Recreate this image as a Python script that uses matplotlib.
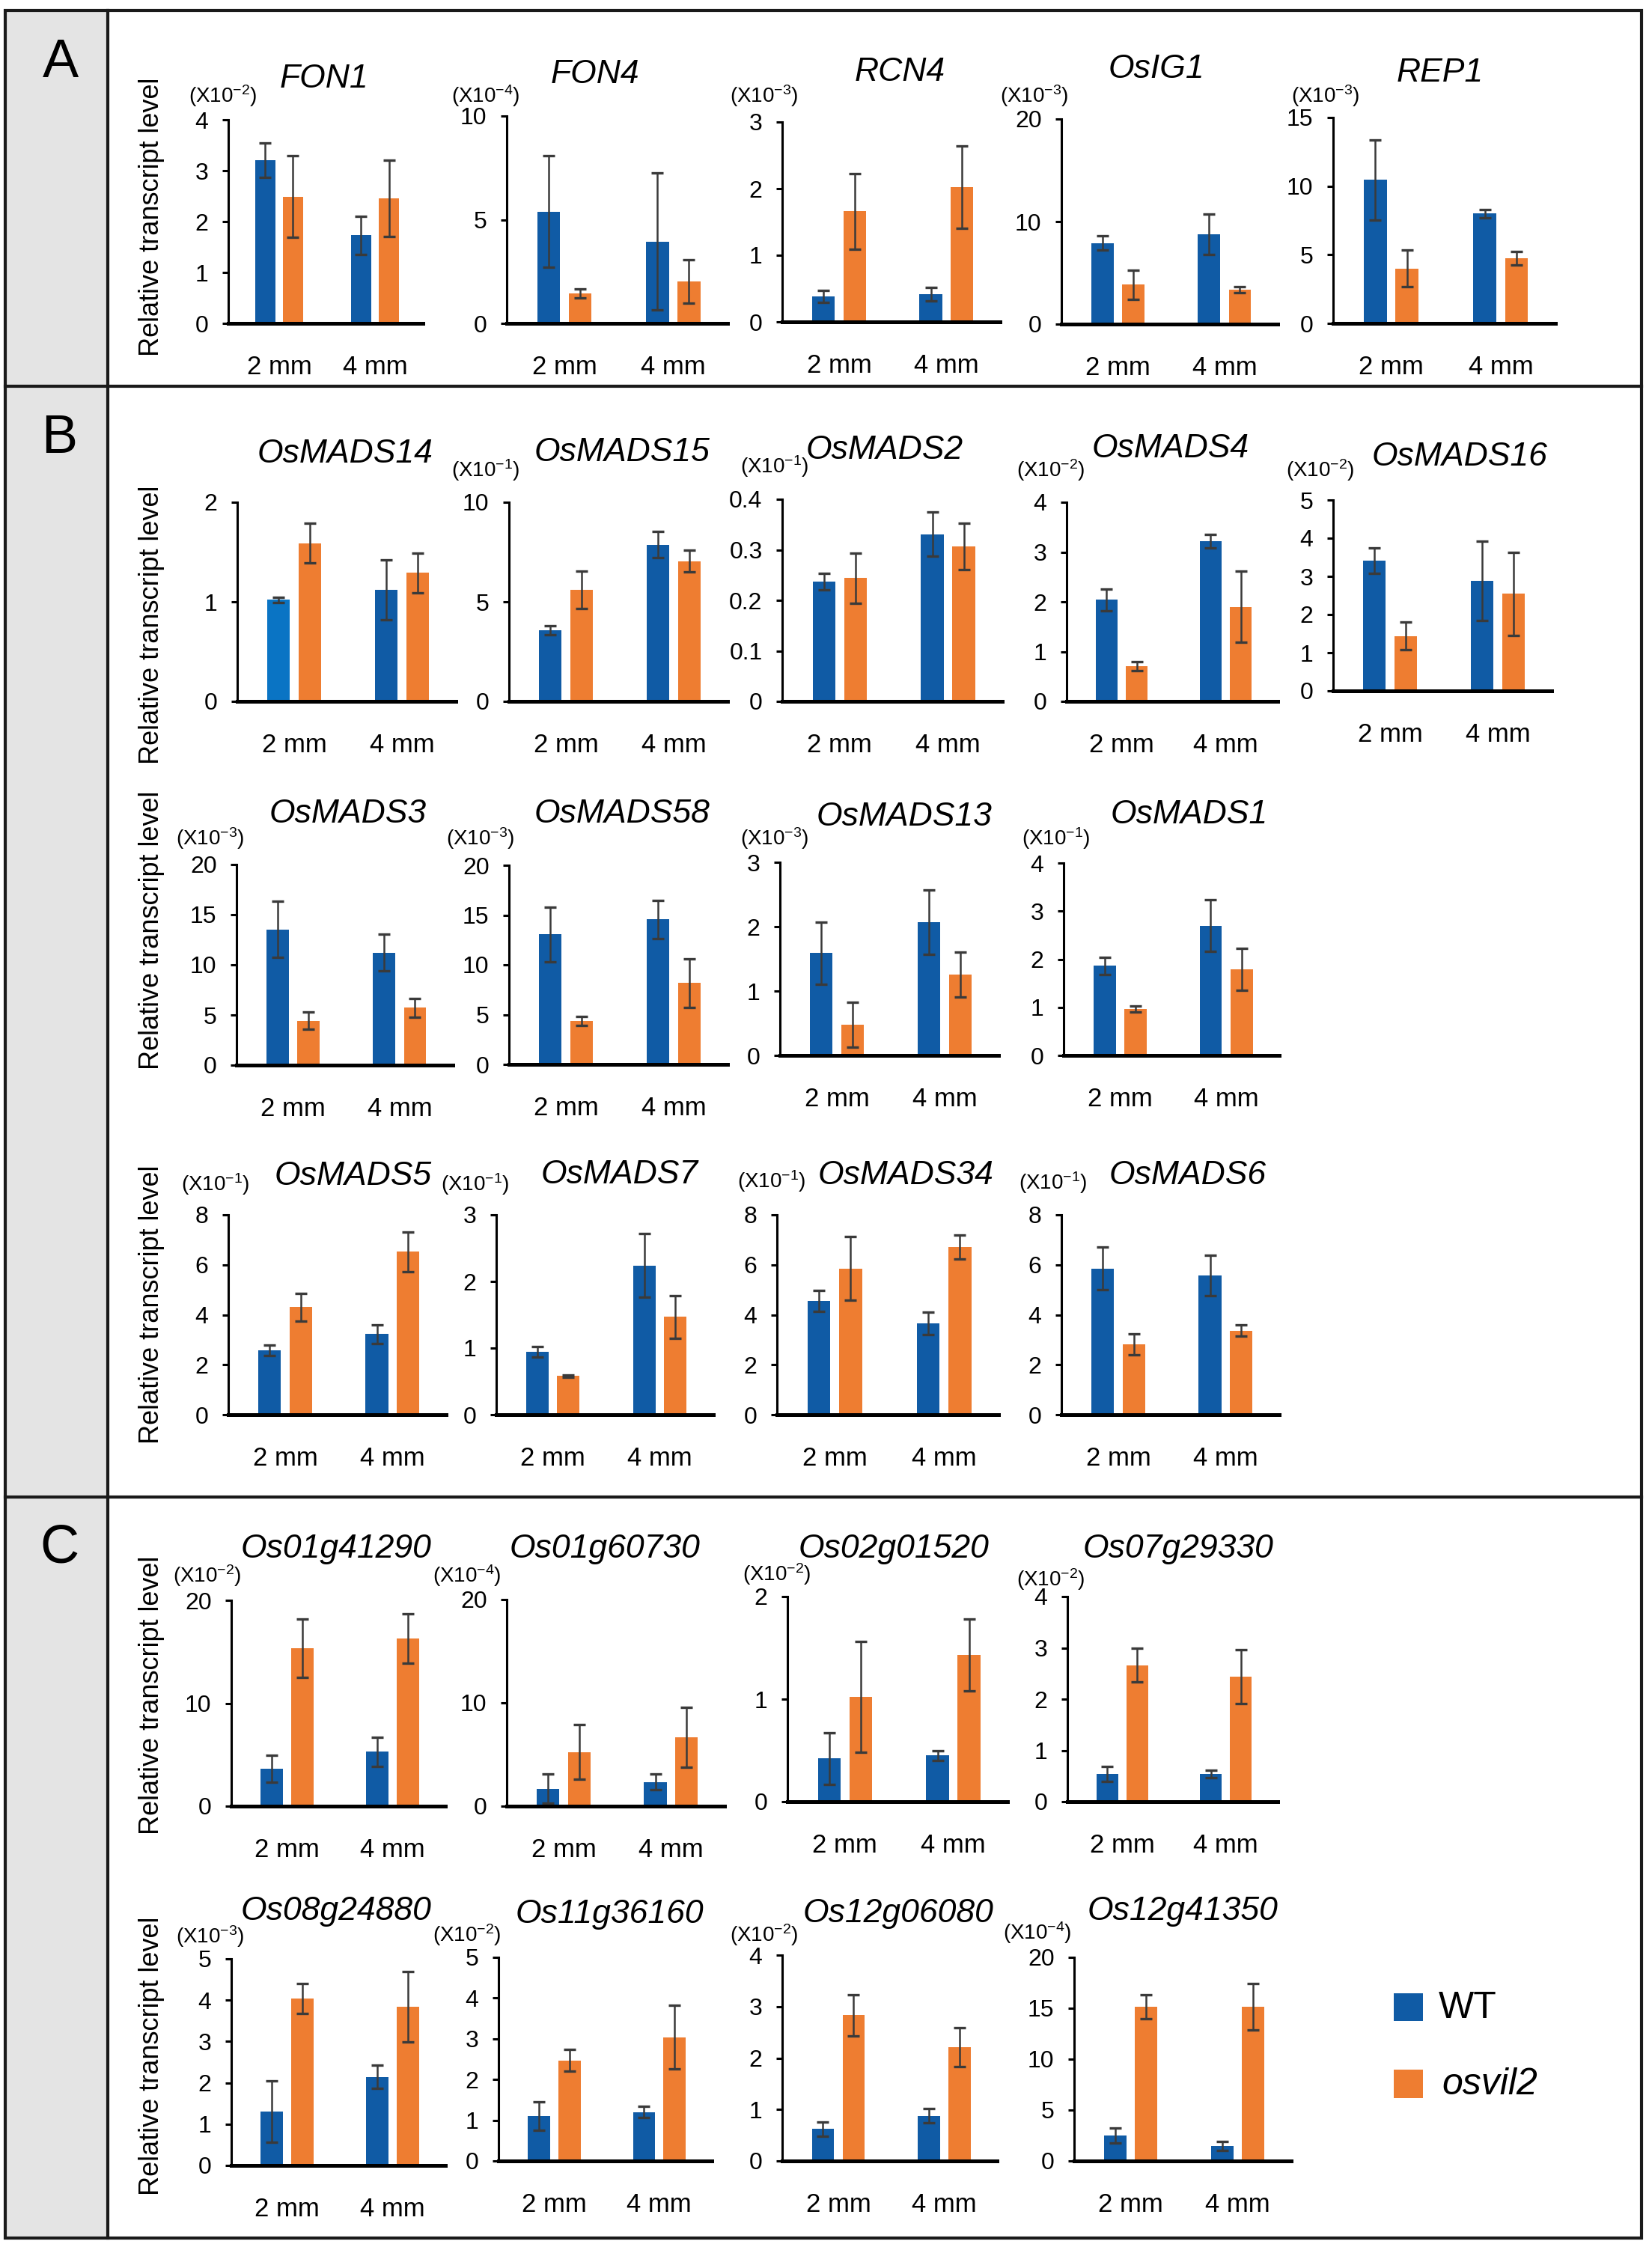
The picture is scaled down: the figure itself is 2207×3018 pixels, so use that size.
import matplotlib
matplotlib.use("Agg")
import matplotlib.pyplot as plt
from matplotlib.patches import Rectangle
from matplotlib.lines import Line2D

plt.rcParams['font.family'] = ['Liberation Sans', 'DejaVu Sans']
plt.rcParams['mathtext.fontset'] = 'custom'
plt.rcParams['mathtext.rm'] = 'Liberation Sans'
plt.rcParams['mathtext.it'] = 'Liberation Sans:italic'
plt.rcParams['mathtext.default'] = 'regular'

# ---------------- data ----------------
stages = ["2 mm", "4 mm"]
series_labels = ["WT", "osvil2"]
ylabel_text = "Relative transcript level"
panel_letters = ["A", "B", "C"]

# Panel A
genes_A = ["FON1", "FON4", "RCN4", "OsIG1", "REP1"]
wt_A = [[3.21, 1.73], [5.39, 3.94], [0.38, 0.42], [7.91, 8.76], [10.45, 8.00]]
wt_err_A = [[0.34, 0.37], [2.68, 3.30], [0.09, 0.10], [0.67, 2.00], [2.90, 0.30]]
mut_A = [[2.49, 2.45], [1.45, 2.01], [1.66, 2.02], [3.84, 3.36], [4.00, 4.73]]
mut_err_A = [[0.80, 0.75], [0.22, 1.05], [0.57, 0.62], [1.45, 0.30], [1.35, 0.50]]
ymax_A = [4, 10, 3, 20, 15]
ystep_A = [1, 5, 1, 10, 5]
exp_A = [-2, -4, -3, -3, -3]

# Panel B, row 1
genes_B1 = ["OsMADS14", "OsMADS15", "OsMADS2", "OsMADS4", "OsMADS16"]
wt_B1 = [[1.02, 1.12], [3.57, 7.87], [0.237, 0.331], [2.04, 3.22], [3.41, 2.88]]
wt_err_B1 = [[0.025, 0.30], [0.22, 0.65], [0.016, 0.044], [0.22, 0.13], [0.33, 1.04]]
mut_B1 = [[1.59, 1.29], [5.61, 7.04], [0.244, 0.307], [0.70, 1.90], [1.44, 2.54]]
mut_err_B1 = [[0.20, 0.20], [0.95, 0.55], [0.050, 0.046], [0.09, 0.71], [0.36, 1.08]]
ymax_B1 = [2, 10, 0.4, 4, 5]
ystep_B1 = [1, 5, 0.1, 1, 1]
exp_B1 = [None, -1, -1, -2, -2]

# Panel B, row 2
genes_B2 = ["OsMADS3", "OsMADS58", "OsMADS13", "OsMADS1"]
wt_B2 = [[13.54, 11.23], [13.05, 14.55], [1.59, 2.07], [1.86, 2.70]]
wt_err_B2 = [[2.80, 1.85], [2.76, 1.93], [0.48, 0.50], [0.18, 0.53]]
mut_B2 = [[4.42, 5.71], [4.34, 8.16], [0.48, 1.26], [0.96, 1.79]]
mut_err_B2 = [[0.85, 0.95], [0.45, 2.45], [0.35, 0.35], [0.065, 0.43]]
ymax_B2 = [20, 20, 3, 4]
ystep_B2 = [5, 5, 1, 1]
exp_B2 = [-3, -3, -3, -1]

# Panel B, row 3
genes_B3 = ["OsMADS5", "OsMADS7", "OsMADS34", "OsMADS6"]
wt_B3 = [[2.58, 3.23], [0.94, 2.24], [4.55, 3.65], [5.85, 5.58]]
wt_err_B3 = [[0.21, 0.37], [0.08, 0.48], [0.43, 0.45], [0.86, 0.81]]
mut_B3 = [[4.30, 6.52], [0.58, 1.47], [5.85, 6.72], [2.82, 3.37]]
mut_err_B3 = [[0.54, 0.79], [0.02, 0.32], [1.28, 0.48], [0.42, 0.22]]
ymax_B3 = [8, 3, 8, 8]
ystep_B3 = [2, 1, 2, 2]
exp_B3 = [-1, -1, -1, -1]

# Panel C, row 1
genes_C1 = ["Os01g41290", "Os01g60730", "Os02g01520", "Os07g29330"]
wt_C1 = [[3.64, 5.28], [1.69, 2.34], [0.42, 0.45], [0.54, 0.54]]
wt_err_C1 = [[1.30, 1.42], [1.40, 0.75], [0.25, 0.05], [0.15, 0.08]]
mut_C1 = [[15.35, 16.30], [5.25, 6.70], [1.02, 1.43], [2.66, 2.44]]
mut_err_C1 = [[2.85, 2.40], [2.65, 2.90], [0.54, 0.35], [0.33, 0.53]]
ymax_C1 = [20, 20, 2, 4]
ystep_C1 = [10, 10, 1, 1]
exp_C1 = [-2, -4, -2, -2]

# Panel C, row 2
genes_C2 = ["Os08g24880", "Os11g36160", "Os12g06080", "Os12g41350"]
wt_C2 = [[1.30, 2.14], [1.10, 1.20], [0.62, 0.88], [2.50, 1.47]]
wt_err_C2 = [[0.74, 0.28], [0.35, 0.14], [0.14, 0.14], [0.70, 0.43]]
mut_C2 = [[4.04, 3.84], [2.47, 3.04], [2.83, 2.21], [15.14, 15.14]]
mut_err_C2 = [[0.37, 0.85], [0.27, 0.78], [0.40, 0.38], [1.15, 2.30]]
ymax_C2 = [5, 5, 4, 20]
ystep_C2 = [1, 1, 1, 5]
exp_C2 = [-3, -2, -2, -4]

# ---------------- style / layout ----------------
W, H, DPI = 2207, 3018, 100
C_WT = "#105BA5"
C_WT_LIGHT = "#0A74C4"
C_MUT = "#EE7D31"
C_ERR = "#3A3A3A"
C_GRAY = "#E4E4E4"

# axis boxes in pixels: (left, right, zero_y, top_y)
boxes_A = [(305, 565, 432, 160), (677, 972, 432, 155), (1045, 1336, 430, 163),
           (1418, 1707, 433, 159), (1781, 2078, 432, 157)]
boxes_B1 = [(317, 609, 937, 671), (680, 972, 937, 671), (1045, 1339, 937, 667),
            (1425, 1707, 937, 671), (1781, 2073, 923, 668)]
boxes_B2 = [(316, 605, 1423, 1155), (680, 972, 1422, 1156), (1042, 1334, 1410, 1152),
            (1421, 1709, 1410, 1153)]
boxes_B3 = [(305, 596, 1890, 1623), (663, 953, 1890, 1623), (1038, 1334, 1890, 1623),
            (1418, 1709, 1890, 1623)]
boxes_C1 = [(309, 595, 2413, 2138), (677, 968, 2413, 2137), (1052, 1346, 2407, 2133),
            (1426, 1707, 2407, 2133)]
boxes_C2 = [(309, 595, 2893, 2617), (666, 951, 2887, 2615), (1045, 1332, 2887, 2612),
            (1435, 1725, 2887, 2615)]

titles_A = [(433, 101), (795, 95), (1202, 92), (1545, 88), (1924, 93)]
titles_B1 = [(461, 602), (831, 600), (1182, 597), (1564, 595), (1950, 606)]
titles_B2 = [(465, 1083), (831, 1083), (1208, 1087), (1589, 1084)]
titles_B3 = [(472, 1567), (828, 1565), (1210, 1566), (1587, 1566)]
titles_C1 = [(449, 2065), (808, 2065), (1194, 2065), (1574, 2065)]
titles_C2 = [(449, 2549), (814, 2553), (1200, 2552), (1580, 2549)]

mult_A = [(298, 128), (649, 128), (1021, 128), (1382, 128), (1771, 128)]
mult_B1 = [None, (649, 628), (1035, 623), (1404, 628), (1764, 628)]
mult_B2 = [(281, 1120), (642, 1120), (1035, 1120), (1411, 1120)]
mult_B3 = [(288, 1582), (635, 1582), (1031, 1578), (1407, 1580)]
mult_C1 = [(277, 2105), (624, 2105), (1038, 2103), (1404, 2110)]
mult_C2 = [(281, 2587), (624, 2585), (1021, 2585), (1386, 2582)]

ylabel_y = [290, 835, 1243, 1743, 2265, 2747]

rows = [
    (genes_A, wt_A, wt_err_A, mut_A, mut_err_A, ymax_A, ystep_A, exp_A, boxes_A, titles_A, mult_A),
    (genes_B1, wt_B1, wt_err_B1, mut_B1, mut_err_B1, ymax_B1, ystep_B1, exp_B1, boxes_B1, titles_B1, mult_B1),
    (genes_B2, wt_B2, wt_err_B2, mut_B2, mut_err_B2, ymax_B2, ystep_B2, exp_B2, boxes_B2, titles_B2, mult_B2),
    (genes_B3, wt_B3, wt_err_B3, mut_B3, mut_err_B3, ymax_B3, ystep_B3, exp_B3, boxes_B3, titles_B3, mult_B3),
    (genes_C1, wt_C1, wt_err_C1, mut_C1, mut_err_C1, ymax_C1, ystep_C1, exp_C1, boxes_C1, titles_C1, mult_C1),
    (genes_C2, wt_C2, wt_err_C2, mut_C2, mut_err_C2, ymax_C2, ystep_C2, exp_C2, boxes_C2, titles_C2, mult_C2),
]

fig = plt.figure(figsize=(W / DPI, H / DPI), dpi=DPI)
fig.patch.set_facecolor("white")


def fx(x):
    return x / W


def fy(y):
    return 1 - y / H


PT = DPI / 72.0  # pixels per point

# ---------------- frame ----------------
fig.add_artist(Rectangle((fx(7), fy(2990)), (144 - 7) / W, (2990 - 14) / H,
                         transform=fig.transFigure, facecolor=C_GRAY, edgecolor="none", zorder=0))
fig.add_artist(Rectangle((fx(7), fy(2990)), (2193 - 7) / W, (2990 - 14) / H,
                         transform=fig.transFigure, facecolor="none", edgecolor="#1a1a1a",
                         linewidth=3, zorder=5))
for yy in (516, 2000):
    fig.add_artist(Line2D([fx(7), fx(2193)], [fy(yy), fy(yy)], transform=fig.transFigure,
                          color="#1a1a1a", linewidth=3, zorder=5))
fig.add_artist(Line2D([fx(144), fx(144)], [fy(14), fy(2990)], transform=fig.transFigure,
                      color="#1a1a1a", linewidth=3, zorder=5))

letter_pos = [(81, 103), (79, 605), (79, 2087)]
for letter, (lx, ly) in zip(panel_letters, letter_pos):
    fig.text(fx(lx), fy(ly), letter, fontsize=52, ha="center", va="baseline")

for yl in ylabel_y:
    fig.text(fx(203), fy(yl), ylabel_text, fontsize=26, rotation=90, ha="center", va="center")

# ---------------- subplots ----------------
BW = 0.21
OFF = 0.145
for (genes, wt, wt_err, mut, mut_err, ymaxs, ysteps, exps, boxes, titles, mults) in rows:
    for k, gene in enumerate(genes):
        l, r, z, t = boxes[k]
        ax = fig.add_axes([fx(l), fy(z), (r - l) / W, (z - t) / H])
        ax.patch.set_alpha(0)
        ax.set_xlim(-0.53, 1.5)
        ax.set_ylim(0, ymaxs[k])
        xs = [0, 1]
        wt_colors = [C_WT, C_WT]
        if gene == "OsMADS14":
            wt_colors = [C_WT_LIGHT, C_WT]
        ax.bar([x - OFF for x in xs], wt[k], width=BW, color=wt_colors, zorder=2)
        ax.bar([x + OFF for x in xs], mut[k], width=BW, color=C_MUT, zorder=2)
        ax.errorbar([x - OFF for x in xs], wt[k], yerr=wt_err[k], fmt="none",
                    ecolor=C_ERR, elinewidth=1.8, capsize=5.5, capthick=2.4, zorder=3)
        ax.errorbar([x + OFF for x in xs], mut[k], yerr=mut_err[k], fmt="none",
                    ecolor=C_ERR, elinewidth=1.8, capsize=5.5, capthick=2.4, zorder=3)
        for s in ("top", "right"):
            ax.spines[s].set_visible(False)
        ax.spines["left"].set_linewidth(2.2)
        ax.spines["bottom"].set_linewidth(3.6)
        ax.spines["left"].set_zorder(4)
        ax.spines["bottom"].set_zorder(4)
        ax.set_xticks([])
        n = int(round(ymaxs[k] / ysteps[k]))
        ticks = [round(i * ysteps[k], 6) for i in range(n + 1)]
        ax.set_yticks(ticks)
        ax.set_yticklabels([f"{v:g}" for v in ticks])
        ax.tick_params(axis="y", direction="out", length=6, width=2.2, pad=13, labelsize=23)
        for i, st in enumerate(stages):
            ax.annotate(st, xy=(xs[i], 0), xycoords="data", xytext=(0, -68),
                        textcoords="offset pixels", ha="center", va="baseline",
                        fontsize=25, annotation_clip=False)
        tx, ty = titles[k]
        fig.text(fx(tx), fy(ty + 16), gene, fontsize=32, style="italic",
                 ha="center", va="baseline")
        if exps[k] is not None and mults[k] is not None:
            mx, my = mults[k]
            fig.text(fx(mx), fy(my), r"(X10$^{%d}$)" % exps[k], fontsize=20,
                     ha="center", va="center")

# ---------------- legend ----------------
fig.add_artist(Rectangle((fx(1862), fy(2700)), 39 / W, 37 / H, transform=fig.transFigure,
                         facecolor=C_WT, edgecolor="none"))
fig.add_artist(Rectangle((fx(1862), fy(2803)), 39 / W, 38 / H, transform=fig.transFigure,
                         facecolor=C_MUT, edgecolor="none"))
fig.text(fx(1922), fy(2683), series_labels[0], fontsize=36, ha="left", va="center")
fig.text(fx(1926), fy(2785), series_labels[1], fontsize=36, style="italic", ha="left", va="center")

fig.savefig("out.png", dpi=DPI, facecolor="white")
